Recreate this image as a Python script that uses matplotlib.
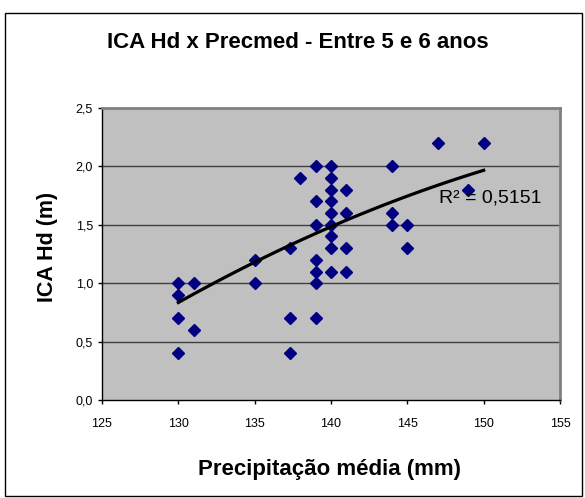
import numpy as np
import matplotlib
matplotlib.use("Agg")
import matplotlib.pyplot as plt
from matplotlib.patches import Rectangle

plt.rcParams['font.family'] = ['Liberation Sans', 'DejaVu Sans']

# Data
precip = [130, 130, 130, 130, 131, 131,
          135, 135,
          137.3, 137.3, 137.3,
          138,
          139, 139, 139, 139, 139, 139, 139,
          140, 140, 140, 140, 140, 140, 140, 140, 140,
          141, 141, 141, 141,
          144, 144, 144,
          145, 145,
          147, 149, 150]
ica_hd = [1.0, 0.9, 0.7, 0.4, 1.0, 0.6,
          1.2, 1.0,
          1.3, 0.7, 0.4,
          1.9,
          2.0, 1.7, 1.5, 1.2, 1.1, 1.0, 0.7,
          2.0, 1.9, 1.8, 1.7, 1.6, 1.5, 1.4, 1.3, 1.1,
          1.8, 1.6, 1.3, 1.1,
          2.0, 1.6, 1.5,
          1.5, 1.3,
          2.2, 1.8, 2.2]
# trend line values
trend_x = [130, 135, 140, 145, 150]
trend_y = [0.83, 1.19, 1.48, 1.74, 1.97]
x_ticks = [125, 130, 135, 140, 145, 150, 155]
y_ticks = [0.0, 0.5, 1.0, 1.5, 2.0, 2.5]
r2_text = "R² = 0,5151"

W, H = 585, 498
fig = plt.figure(figsize=(W / 100, H / 100), dpi=100)
fig.patch.set_facecolor('white')

# outer chart border
fig.patches.append(Rectangle((5 / W, 2 / H), (W - 8) / W, (H - 15) / H,
                             transform=fig.transFigure, fill=False,
                             edgecolor='black', linewidth=1.0))

L, R, T, B = 102, 560, 108, 400
ax = fig.add_axes([L / W, (H - B) / H, (R - L) / W, (B - T) / H])
ax.set_facecolor('#C0C0C0')
ax.set_xlim(125, 155)
ax.set_ylim(0, 2.5)
ax.set_xticks(x_ticks)
ax.set_yticks(y_ticks)
ax.set_xticklabels([str(v) for v in x_ticks])
ax.set_yticklabels([f"{v:.1f}".replace('.', ',') for v in y_ticks])
ax.tick_params(axis='both', labelsize=9, direction='out', length=3, width=1,
               color='black', labelcolor='black')
ax.tick_params(axis='x', pad=10)
ax.tick_params(axis='y', pad=3.5)
for yv in y_ticks[1:-1]:
    ax.axhline(yv, color='#404040', linewidth=1.0, zorder=1)
for side in ['top', 'right']:
    ax.spines[side].set_color('#808080')
    ax.spines[side].set_linewidth(2)
for side in ['left', 'bottom']:
    ax.spines[side].set_color('black')
    ax.spines[side].set_linewidth(1)

ax.plot(precip, ica_hd, linestyle='none', marker='D', markersize=6.6,
        color='#000080', markeredgecolor='#000080', zorder=3)

coef = np.polyfit(trend_x, trend_y, 2)
xs = np.linspace(min(trend_x), max(trend_x), 100)
ax.plot(xs, np.polyval(coef, xs), color='black', linewidth=2.3, zorder=4)

ax.text(147.1, 1.73, r2_text, fontsize=14, ha='left', va='center',
        color='black', zorder=5, clip_on=False)

fig.text(298 / W, 1 - 43 / H, "ICA Hd x Precmed - Entre 5 e 6 anos",
         fontsize=16, fontweight='bold', ha='center', va='center')
fig.text(329 / W, 1 - 469 / H, "Precipitação média (mm)",
         fontsize=16, fontweight='bold', ha='center', va='center')
fig.text(47 / W, 1 - 247 / H, "ICA Hd (m)", rotation=90,
         fontsize=15.5, fontweight='bold', ha='center', va='center')

fig.savefig("out.png", dpi=100)
